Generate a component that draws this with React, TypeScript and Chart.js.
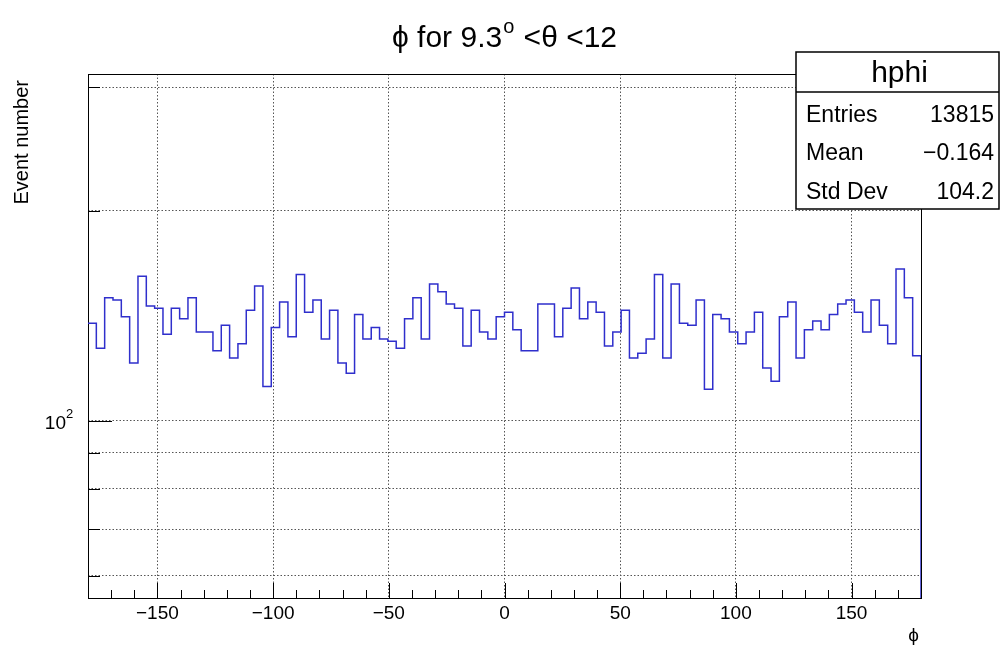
import React, { useEffect, useRef } from 'react';
import { Chart, registerables } from 'chart.js';

Chart.register(...registerables);

// ---- data ----
const PHI_MIN = -180;
const PHI_MAX = 180;
const N_BINS = 100;
const binCounts = [
  138, 127, 150, 149, 141, 121, 161, 146, 145, 133,
  145, 140, 150, 134, 134, 126, 137, 123, 129, 144,
  156, 112, 136, 148, 132, 162, 143, 149, 131, 144,
  121, 117, 142, 131, 136, 131, 130, 127, 140, 150,
  131, 157, 153, 147, 145, 128, 144, 134, 131, 141,
  143, 135, 126, 126, 147, 147, 132, 145, 155, 140,
  148, 143, 128, 134, 144, 123, 125, 131, 162, 123,
  157, 138, 137, 149, 111, 142, 140, 134, 129, 134,
  143, 119, 114, 141, 148, 123, 135, 139, 135, 142,
  147, 149, 143, 134, 149, 137, 129, 165, 150, 124,
];
const xTickValues = [-150, -100, -50, 0, 50, 100, 150];
const xMinorStep = 10;
const yTickValues = [60, 70, 80, 90, 100, 200, 300];
const yLabelValue = 100;
const Y_MIN = 55.8;
const Y_MAX = 313.6;
const HIST_NAME = 'hphi';
const statLabels = ['Entries', 'Mean', 'Std Dev'];
const statValues = ['13815', '\u22120.164', '104.2'];
const yAxisTitle = 'Event number';
const xAxisTitle = '\u03D5';

const FONT = '"Liberation Sans", Arial, Helvetica, sans-serif';
const LINE_COLOR = '#2f2fcc';

const fmtX = (v: number) => (v < 0 ? '\u2212' + Math.abs(v) : String(v));

const rootPlugin = {
  id: 'rootDecor',
  beforeDatasetsDraw(chart: any) {
    const { ctx, chartArea } = chart;
    const { left, right, top, bottom } = chartArea;
    const xs = chart.scales.x;
    const ys = chart.scales.y;
    ctx.save();
    ctx.strokeStyle = '#000';
    ctx.lineWidth = 1;
    ctx.setLineDash([]);
    for (let v = PHI_MIN; v <= PHI_MAX + 1e-9; v += xMinorStep) {
      const px = Math.round(xs.getPixelForValue(v)) + 0.5;
      const major = xTickValues.includes(v);
      const len = major ? 15 : 8;
      ctx.beginPath();
      ctx.moveTo(px, bottom);
      ctx.lineTo(px, bottom - len);
      ctx.stroke();
    }
    yTickValues.forEach((v) => {
      const py = Math.round(ys.getPixelForValue(v)) + 0.5;
      const len = v === yLabelValue ? 24 : 12;
      ctx.beginPath();
      ctx.moveTo(left, py);
      ctx.lineTo(left + len, py);
      ctx.stroke();
    });
    ctx.strokeRect(Math.round(left) + 0.5, Math.round(top) + 0.5, Math.round(right - left), Math.round(bottom - top));

    // y label 10^2
    const py = ys.getPixelForValue(yLabelValue);
    ctx.fillStyle = '#000';
    ctx.textBaseline = 'alphabetic';
    ctx.font = `19px ${FONT}`;
    ctx.textAlign = 'right';
    ctx.fillText('10', left - 22, py + 8);
    ctx.font = `13px ${FONT}`;
    ctx.textAlign = 'left';
    ctx.fillText('2', left - 22, py - 3);
    ctx.restore();
  },
  afterDraw(chart: any) {
    const { ctx, chartArea } = chart;
    const { left, right, top, bottom } = chartArea;
    ctx.save();
    ctx.fillStyle = '#000';
    ctx.setLineDash([]);

    // title: ϕ for 9.3^{o} <θ <12
    const cx = (left + right) / 2;
    const baseY = 47;
    const big = `30px ${FONT}`;
    const small = `20px ${FONT}`;
    ctx.font = big;
    const p1 = '\u03D5 for 9.3';
    const p3 = ' <\u03B8 <12';
    const w1 = ctx.measureText(p1).width;
    const w3 = ctx.measureText(p3).width;
    ctx.font = small;
    const w2 = ctx.measureText('o').width;
    const total = w1 + w2 + w3 + 2;
    const x0 = cx - total / 2;
    ctx.textBaseline = 'alphabetic';
    ctx.textAlign = 'left';
    ctx.font = big;
    ctx.fillText(p1, x0, baseY);
    ctx.font = small;
    ctx.fillText('o', x0 + w1 + 1, baseY - 14);
    ctx.font = big;
    ctx.fillText(p3, x0 + w1 + w2 + 2, baseY);

    // y axis title
    ctx.save();
    ctx.translate(22, top + 6);
    ctx.rotate(-Math.PI / 2);
    ctx.font = `20px ${FONT}`;
    ctx.textAlign = 'right';
    ctx.textBaseline = 'middle';
    ctx.fillText(yAxisTitle, 0, 0);
    ctx.restore();

    // x axis title
    ctx.font = `19px ${FONT}`;
    ctx.textAlign = 'right';
    ctx.textBaseline = 'alphabetic';
    ctx.fillText(xAxisTitle, right - 2, bottom + 43);

    // stats box
    const bx = 796, by = 52, bw = 203, bh = 157;
    ctx.fillStyle = '#fff';
    ctx.fillRect(bx, by, bw, bh);
    ctx.strokeStyle = '#000';
    ctx.lineWidth = 1.5;
    ctx.strokeRect(bx, by, bw, bh);
    ctx.beginPath();
    ctx.moveTo(bx, 92);
    ctx.lineTo(bx + bw, 92);
    ctx.stroke();
    ctx.fillStyle = '#000';
    ctx.font = `30px ${FONT}`;
    ctx.textAlign = 'center';
    ctx.fillText(HIST_NAME, bx + bw / 2 + 2, 82);
    ctx.font = `23px ${FONT}`;
    const rowBase = [122, 160, 199];
    statLabels.forEach((lab, i) => {
      ctx.textAlign = 'left';
      ctx.fillText(lab, bx + 10, rowBase[i]);
      ctx.textAlign = 'right';
      ctx.fillText(statValues[i], bx + bw - 5, rowBase[i]);
    });
    ctx.restore();
  },
};

export default function App() {
  const ref = useRef<HTMLCanvasElement | null>(null);
  useEffect(() => {
    if (!ref.current) return;
    const binWidth = (PHI_MAX - PHI_MIN) / N_BINS;
    const points: { x: number; y: number }[] = binCounts.map((v, i) => ({ x: PHI_MIN + i * binWidth, y: v }));
    points.push({ x: PHI_MAX, y: binCounts[N_BINS - 1] });
    points.push({ x: PHI_MAX, y: Y_MIN });

    const chart = new Chart(ref.current, {
      type: 'line',
      data: {
        datasets: [
          {
            label: HIST_NAME,
            data: points,
            borderColor: LINE_COLOR,
            borderWidth: 1.5,
            pointRadius: 0,
            fill: false,
            stepped: true,
            tension: 0,
          },
        ],
      },
      options: {
        responsive: false,
        animation: false,
        devicePixelRatio: 1,
        layout: { padding: { top: 74, right: 79, left: 0, bottom: 0 } },
        plugins: {
          legend: { display: false },
          tooltip: { enabled: false },
          title: { display: false },
        },
        scales: {
          x: {
            type: 'linear',
            min: PHI_MIN,
            max: PHI_MAX,
            afterBuildTicks: (s: any) => {
              s.ticks = xTickValues.map((v) => ({ value: v }));
            },
            afterFit: (s: any) => {
              s.height = 49;
            },
            grid: { color: '#555', lineWidth: 1, drawTicks: false },
            border: { display: false, dash: [1.5, 2] },
            ticks: {
              padding: 4,
              color: '#000',
              font: { family: FONT, size: 19 },
              maxRotation: 0,
              autoSkip: false,
              callback: (v: any) => fmtX(Number(v)),
            },
          },
          y: {
            type: 'logarithmic',
            min: Y_MIN,
            max: Y_MAX,
            afterBuildTicks: (s: any) => {
              s.ticks = yTickValues.map((v) => ({ value: v }));
            },
            afterFit: (s: any) => {
              s.width = 88;
            },
            grid: { color: '#555', lineWidth: 1, drawTicks: false },
            border: { display: false, dash: [1.5, 2] },
            ticks: {
              padding: 8,
              color: '#000',
              font: { family: FONT, size: 17 },
              autoSkip: false,
              callback: () => '',
            },
          },
        },
      },
      plugins: [rootPlugin],
    } as any);
    return () => chart.destroy();
  }, []);

  return (
    <div style={{ position: 'absolute', left: 0, top: 0, width: 1000, height: 647, background: '#fff' }}>
      <canvas ref={ref} width={1000} height={647} style={{ display: 'block' }} />
    </div>
  );
}
